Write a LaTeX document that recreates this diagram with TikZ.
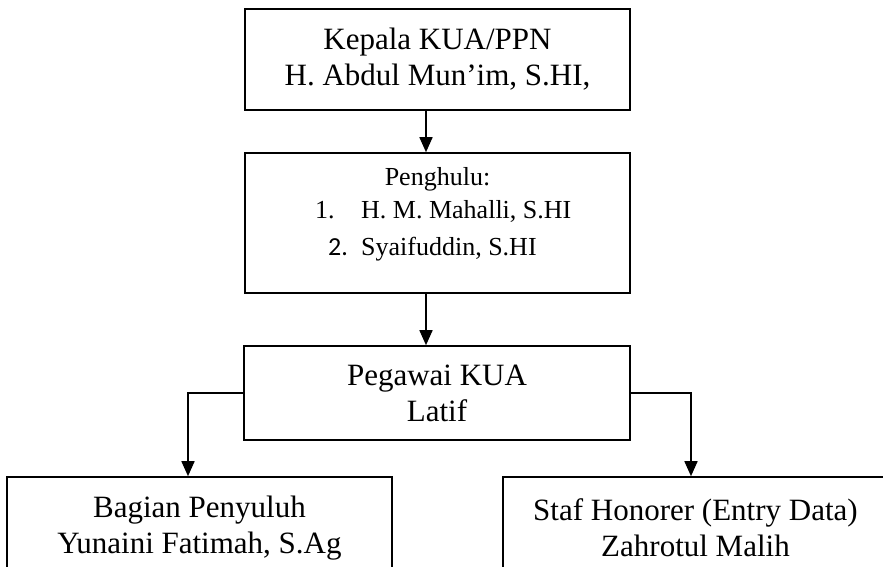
\documentclass[tikz,border=0pt]{standalone}
\usepackage{fontspec}
\setmainfont{Liberation Serif}
\newfontfamily\calibrifont{Carlito}
\usetikzlibrary{positioning,arrows.meta,calc}

\tikzset{
  orgbox/.style={draw, line width=1.6pt, minimum width=385pt, inner sep=0pt,
    align=center, font=\fontsize{31}{36}\selectfont},
  orgtext/.style={inner sep=0pt, font=\fontsize{26}{30}\selectfont},
  orgarrow/.style={-{Triangle[length=15pt,width=13pt]}, line width=1.6pt}
}

\begin{document}
\begin{tikzpicture}[x=1pt,y=-1pt]
   \useasboundingbox (0,0) rectangle (883,567);
   % boxes
   \node[orgbox, minimum height=101pt] (kepala) at (437.5,59.5)
     {Kepala KUA/PPN\\H. Abdul Mun'im, S.HI,};
   \node[orgbox, minimum height=140pt] (penghulu) at (437.5,223) {};
   \node[orgtext, anchor=base] (penghulutitle) at (437.5,185) {Penghulu:};
   \node[orgtext, anchor=base west] (mahalli) at (315,218)
     {\makebox[46pt][l]{1.}H. M. Mahalli, S.HI};
   \node[orgtext, anchor=base west] (syaifuddin) at (328,255)
     {\makebox[33pt][l]{\calibrifont 2.}Syaifuddin, S.HI};
   \node[orgbox, minimum height=94pt, minimum width=386pt] (pegawai) at (437,393)
     {Pegawai KUA\\Latif};
   \node[orgbox, minimum height=102pt] (penyuluh) at (199.5,528)
     {Bagian Penyuluh\\Yunaini Fatimah, S.Ag};
   \node[orgbox, minimum height=102pt] (honorer) at (695.5,528)
     {Staf Honorer (Entry Data)\\Zahrotul Malih};
   % connectors
   \draw[orgarrow] ([xshift=-11.5pt]kepala.south) -- ([xshift=-11.5pt]penghulu.north);
   \draw[orgarrow] ([xshift=-11.5pt]penghulu.south) -- ([xshift=-11pt]pegawai.north);
   \draw[orgarrow] (pegawai.west) -| ([xshift=-11.5pt]penyuluh.north);
   \draw[orgarrow] (pegawai.east) -| ([xshift=-4.5pt]honorer.north);
\end{tikzpicture}
\end{document}
